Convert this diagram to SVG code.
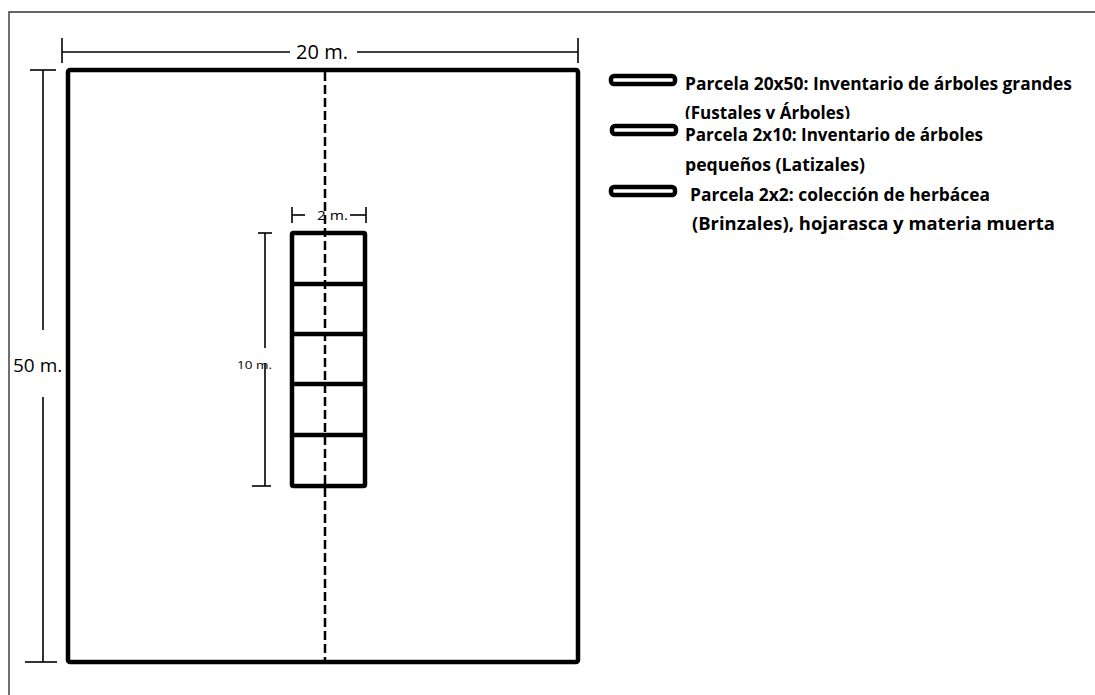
<svg xmlns="http://www.w3.org/2000/svg" width="1095" height="695" viewBox="0 0 1095 695">
  <style>
    .frame { stroke: #333; stroke-width: 1.4; fill: none; }
    .thick { stroke: #000; stroke-width: 4.5; fill: none; stroke-linejoin: round; }
    .dim { stroke: #000; stroke-width: 1.6; fill: none; }
    .dash { stroke: #000; stroke-width: 2.5; stroke-dasharray: 9 4; fill: none; }
    .lbl { font-family: "Open Sans", "Liberation Sans", sans-serif; fill: #000; }
    .leg { font-family: "Open Sans", "Liberation Sans", sans-serif; font-weight: 700; font-size: 17px; fill: #000; }
    .icon { fill: #fff; stroke: #000; stroke-width: 4.5; }
  </style>
  <defs>
    <clipPath id="clipRow2"><rect x="680" y="95" width="300" height="24"/></clipPath>
  </defs>
  <rect width="1095" height="695" fill="#fff"/>
  <g id="frame">
    <path class="frame" d="M9,695 V12 H1095"/>
  </g>
  <g id="plot-20x50">
    <rect class="thick" x="68" y="70" width="510" height="592" rx="2"/>
  </g>
  <g id="connectors">
    <line class="dash" x1="325" y1="72" x2="325" y2="660"/>
    <!-- 20 m dimension -->
    <line class="dim" x1="62" y1="52" x2="290" y2="52"/>
    <line class="dim" x1="357" y1="52" x2="578" y2="52"/>
    <line class="dim" x1="62" y1="38" x2="62" y2="63"/>
    <line class="dim" x1="578" y1="38" x2="578" y2="63"/>
    <!-- 50 m dimension -->
    <line class="dim" x1="43" y1="70" x2="43" y2="330"/>
    <line class="dim" x1="43" y1="397" x2="43" y2="662"/>
    <line class="dim" x1="30" y1="70" x2="56" y2="70"/>
    <line class="dim" x1="25" y1="662" x2="57" y2="662"/>
    <!-- 10 m dimension -->
    <line class="dim" x1="265" y1="233" x2="265" y2="348"/>
    <line class="dim" x1="265" y1="363" x2="265" y2="486"/>
    <line class="dim" x1="258" y1="233" x2="272" y2="233"/>
    <line class="dim" x1="252" y1="486" x2="271" y2="486"/>
    <!-- 2 m dimension -->
    <line class="dim" x1="292" y1="215" x2="305" y2="215"/>
    <line class="dim" x1="350" y1="215" x2="366" y2="215"/>
    <line class="dim" x1="292" y1="207" x2="292" y2="223"/>
    <line class="dim" x1="366" y1="207" x2="366" y2="223"/>
  </g>
  <g id="plot-2x10">
    <rect class="thick" x="292" y="233" width="73" height="253" rx="1.5"/>
    <line class="thick" x1="292" y1="284" x2="365" y2="284"/>
    <line class="thick" x1="292" y1="334" x2="365" y2="334"/>
    <line class="thick" x1="292" y1="384" x2="365" y2="384"/>
    <line class="thick" x1="292" y1="435" x2="365" y2="435"/>
  </g>
  <g id="labels">
    <text class="lbl" x="322" y="59" font-size="20" text-anchor="middle">20 m.</text>
    <text class="lbl" x="13" y="372" font-size="19">50 m.</text>
    <text class="lbl" x="237" y="369" font-size="11.5" textLength="35" lengthAdjust="spacingAndGlyphs">10 m.</text>
    <text class="lbl" x="317" y="220" font-size="13" textLength="31" lengthAdjust="spacingAndGlyphs">2 m.</text>
  </g>
  <g id="legend">
    <rect class="icon" x="611" y="76" width="64" height="8" rx="3"/>
    <rect class="icon" x="612" y="126" width="64" height="8" rx="3"/>
    <rect class="icon" x="611" y="187" width="64" height="8" rx="3"/>
    <text class="leg" x="685" y="90" textLength="387" lengthAdjust="spacingAndGlyphs">Parcela 20x50: Inventario de árboles grandes</text>
    <text class="leg" x="685" y="119" textLength="165" lengthAdjust="spacingAndGlyphs" clip-path="url(#clipRow2)">(Fustales v Árboles)</text>
    <text class="leg" x="685" y="141" textLength="298" lengthAdjust="spacingAndGlyphs">Parcela 2x10: Inventario de  árboles</text>
    <text class="leg" x="685" y="171" textLength="180" lengthAdjust="spacingAndGlyphs">pequeños  (Latizales)</text>
    <text class="leg" x="690" y="201" textLength="300" lengthAdjust="spacingAndGlyphs">Parcela 2x2: colección de herbácea</text>
    <text class="leg" x="692" y="230" textLength="363" lengthAdjust="spacingAndGlyphs">(Brinzales), hojarasca y materia muerta</text>
  </g>
</svg>
